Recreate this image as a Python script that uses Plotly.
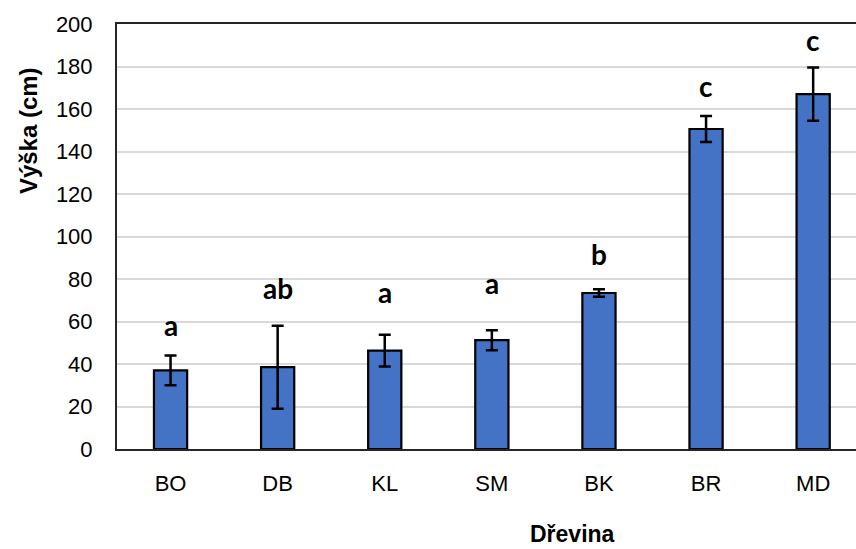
import plotly.graph_objects as go

species = ["BO", "DB", "KL", "SM", "BK", "BR", "MD"]
height_mean = [37.0, 38.5, 46.3, 51.2, 73.4, 150.6, 167.0]
height_err = [7.0, 19.5, 7.5, 4.7, 1.8, 6.1, 12.5]
sig_letters = ["a", "ab", "a", "a", "b", "c", "c"]
sig_letter_y = [58.4, 75.7, 73.8, 78.0, 92.0, 170.8, 192.4]
y_ticks = [0, 20, 40, 60, 80, 100, 120, 140, 160, 180, 200]

fig = go.Figure()
fig.add_trace(go.Bar(
    x=species, y=height_mean, width=0.31,
    marker=dict(color="#4472C4", line=dict(color="#000000", width=2.2)),
    error_y=dict(type="data", array=height_err, visible=True,
                 color="#000000", thickness=2.5, width=6),
    showlegend=False,
))

for sp, lab, ly in zip(species, sig_letters, sig_letter_y):
    fig.add_annotation(x=sp, y=ly, text="<b>%s</b>" % lab, showarrow=False,
                       xanchor="center", yanchor="middle",
                       font=dict(family="Lato", size=28, color="#000000"))

fig.add_annotation(xref="paper", yref="paper", x=-0.1204, y=0.748,
                   text="<b>Výška (cm)</b>", textangle=-90, showarrow=False,
                   xanchor="center", yanchor="middle",
                   font=dict(family="Liberation Sans", size=24, color="#000000"))
fig.add_annotation(xref="paper", yref="paper", x=0.6164, y=-0.2,
                   text="<b>Dřevina</b>", showarrow=False,
                   xanchor="center", yanchor="middle",
                   font=dict(family="Liberation Sans", size=23, color="#000000"))

fig.update_layout(
    width=856, height=549,
    margin=dict(l=117, r=0, t=24, b=100),
    paper_bgcolor="white", plot_bgcolor="white",
    font=dict(family="Liberation Sans", size=22, color="#000000"),
)
fig.update_xaxes(
    range=[-0.5, 6.4], showline=True, linecolor="#262626", linewidth=2,
    mirror=True, showgrid=False, ticks="", ticklabelstandoff=14,
    tickfont=dict(family="Liberation Sans", size=22, color="#000000"),
)
fig.update_yaxes(
    range=[0, 200], tickvals=y_ticks, showline=True, linecolor="#262626",
    linewidth=2, showgrid=True, gridcolor="#d9d9d9", gridwidth=1.5,
    zeroline=False, ticks="", ticklabelstandoff=18,
    tickfont=dict(family="Liberation Sans", size=22, color="#000000"),
)

fig.write_html(
    "out.html",
    config={"displayModeBar": False},
    post_script="document.body.style.margin='0';document.body.style.overflow='hidden';",
)
